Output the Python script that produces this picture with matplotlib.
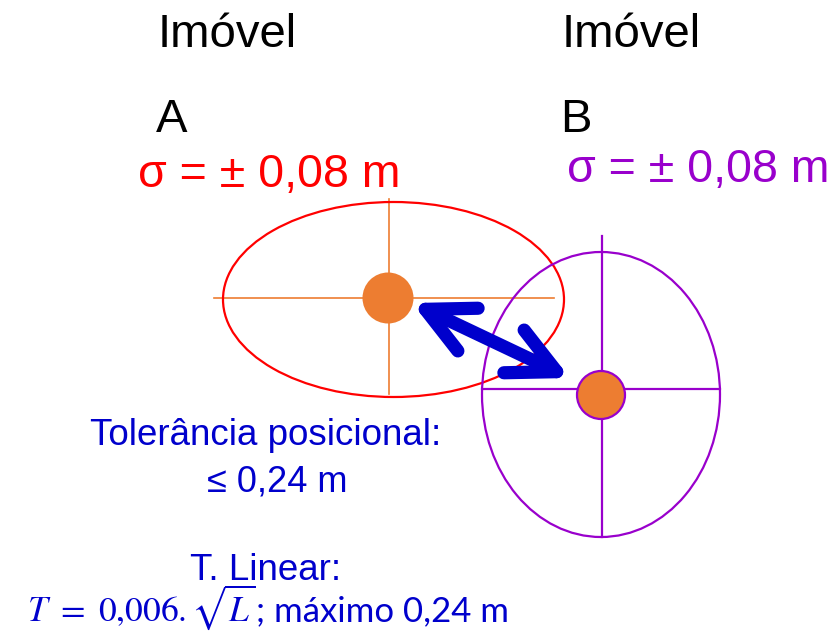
import matplotlib
matplotlib.use('Agg')
import matplotlib.pyplot as plt
from matplotlib.patches import Ellipse, Circle, FancyArrowPatch

plt.rcParams['font.family'] = ['Liberation Sans', 'DejaVu Sans']
plt.rcParams['mathtext.fontset'] = 'stix'

# points (pixel coordinates of the drawing, y downwards)
labels = ['A', 'B']
centers = [(388, 298), (601, 395)]
ellipse_centers = [(393.5, 299.5), (601, 394.5)]
ellipse_sizes = [(341, 195), (238, 285)]
cross_h = [(214, 554, 298), (482, 720, 389)]
cross_v = [(389, 199, 394), (602, 236, 537)]
dot_r = [25.5, 24]
sigma_text = ['σ = ± 0,08 m', 'σ = ± 0,08 m']
edge_cols = ['#FF0000', '#9900CC']
cross_cols = ['#ED7D31', '#9900CC']
dot_edge = ['#ED7D31', '#9900CC']
arrow_from = (412, 303)
arrow_to = (570, 378)

blue = '#0000CC'
orange = '#ED7D31'

fig = plt.figure(figsize=(8.38, 6.33), dpi=100)
ax = fig.add_axes([0, 0, 1, 1])
ax.set_xlim(0, 838)
ax.set_ylim(633, 0)
ax.set_axis_off()

# headers
for x, lab in zip([158, 562], labels):
    ax.text(x, 47, 'Imóvel', fontsize=34, ha='left', va='baseline', color='black')
    ax.text(x - 2, 132, lab, fontsize=34, ha='left', va='baseline', color='black')

ax.text(138, 187, sigma_text[0], fontsize=33.5, ha='left', va='baseline', color=edge_cols[0])
ax.text(567, 182, sigma_text[1], fontsize=33.5, ha='left', va='baseline', color=edge_cols[1])

for i in range(2):
    x0, x1, yh = cross_h[i]
    xv, y0, y1 = cross_v[i]
    lw = 1.2 if i == 0 else 1.6
    ax.plot([x0, x1], [yh, yh], color=cross_cols[i], lw=lw, zorder=2)
    ax.plot([xv, xv], [y0, y1], color=cross_cols[i], lw=lw, zorder=2)
    ax.add_patch(Ellipse(ellipse_centers[i], ellipse_sizes[i][0], ellipse_sizes[i][1],
                         fill=False, edgecolor=edge_cols[i], lw=1.6, zorder=3))
    ax.add_patch(Circle(centers[i], dot_r[i], facecolor=orange, edgecolor=dot_edge[i],
                        lw=1.6 if i == 1 else 0, zorder=4))

arr = FancyArrowPatch(arrow_from, arrow_to, arrowstyle='<->,head_length=0.34,head_width=0.17',
                      mutation_scale=100, color=blue, lw=9.5, shrinkA=0, shrinkB=0,
                      capstyle='round', joinstyle='round', zorder=5)
ax.add_patch(arr)

ax.text(266, 445, 'Tolerância posicional:', fontsize=26.5, ha='center', va='baseline', color=blue)
ax.text(277, 492, '≤ 0,24 m', fontsize=26, ha='center', va='baseline', color=blue)
ax.text(266, 580, 'T. Linear:', fontsize=26.5, ha='center', va='baseline', color=blue)

ax.text(27, 621, r'$T\ =\ 0{,}006.\sqrt{L}$', fontsize=25.5, ha='left', va='baseline', color=blue)
ax.text(256, 621, '; máximo 0,24 m', fontsize=25, ha='left', va='baseline', color=blue,
        family=['Lato', 'DejaVu Sans'])

fig.savefig('out.png', dpi=100)
